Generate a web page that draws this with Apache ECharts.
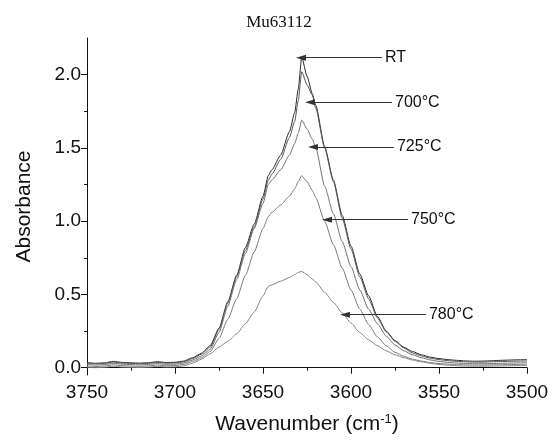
<!DOCTYPE html>
<html>
<head>
<meta charset="utf-8">
<script src="https://cdn.jsdelivr.net/npm/echarts@6/dist/echarts.min.js"></script>
<style>html,body{margin:0;padding:0;background:#fff}#c{width:558px;height:440px}</style>
</head>
<body>
<div id="c"></div>
<script>
const wavenumbers = [3750,3745,3740,3735,3730,3725,3720,3715,3710,3705,3700,3695,3690,3685,3680,3675,3670,3665,3660,3655,3650,
  3647,3645,3640,3635,3632,3630,3628,3625,3622,3620,
  3615,3610,3605,3600,3595,3590,3585,3580,3575,3570,3565,3560,3555,3550,3545,3540,3535,3530,3525,3520,3515,3510,3505,3500];

const absRT = [.035,.030,.033,.043,.036,.033,.031,.034,.041,.035,.037,
  .045,.068,.098,.15,.27,.45,.63,.82,.98,1.17,
  1.31,1.35,1.45,1.61,1.74,1.90,2.12,1.99,1.87,1.79,
  1.51,1.28,1.04,.83,.64,.49,.35,.25,.185,.14,.11,.088,.072,.062,.055,.05,.046,.044,.045,.047,.05,.052,.054,.055];

const abs700 = [.030,.026,.029,.038,.031,.029,.027,.030,.036,.031,.032,
  .040,.062,.092,.14,.26,.44,.62,.80,.96,1.15,
  1.28,1.32,1.42,1.57,1.68,1.82,2.02,1.93,1.86,1.77,
  1.50,1.27,1.02,.81,.62,.47,.34,.245,.18,.135,.10,.08,.065,.055,.048,.043,.04,.038,.038,.04,.042,.043,.045,.046];

const abs725 = [.022,.018,.021,.030,.024,.021,.019,.022,.028,.023,.024,
  .032,.052,.08,.125,.24,.42,.60,.78,.95,1.12,
  1.25,1.28,1.35,1.45,1.53,1.60,1.69,1.63,1.56,1.50,
  1.24,1.05,.86,.69,.53,.40,.30,.215,.155,.115,.088,.068,.053,.043,.036,.032,.029,.027,.027,.028,.03,.031,.033,.034];

const abs750 = [.012,.008,.011,.020,.014,.011,.009,.012,.018,.013,.014,
  .022,.042,.068,.11,.20,.33,.47,.63,.79,.95,
  1.03,1.06,1.11,1.17,1.22,1.27,1.31,1.27,1.21,1.16,
  1.00,.84,.68,.53,.40,.295,.21,.15,.105,.078,.058,.045,.035,.028,.024,.021,.019,.018,.018,.019,.02,.021,.022,.023];

const abs780 = [.004,.000,.003,.010,.005,.003,.001,.004,.009,.005,.006,
  .012,.03,.058,.095,.14,.18,.23,.30,.38,.49,
  .555,.565,.59,.615,.635,.65,.657,.635,.605,.585,
  .515,.445,.375,.305,.24,.19,.15,.115,.088,.068,.052,.04,.03,.022,.017,.013,.011,.01,.01,.011,.012,.013,.014,.015];

const seriesNames = ['RT','700°C','725°C','750°C','780°C'];
const seriesValues = [absRT, abs700, abs725, abs750, abs780];
const seriesColors = ['#2a2a2a','#555555','#6e6e6e','#7a7a7a','#858585'];

// annotation arrows: label, tip [wavenumber, absorbance], tail [wavenumber, absorbance]
const annotations = [
  {text:'RT',    tip:[3628.4,2.116], tail:[3582.4,2.116]},
  {text:'700°C', tip:[3623.3,1.811], tail:[3576.7,1.811]},
  {text:'725°C', tip:[3621.6,1.506], tail:[3575.6,1.506]},
  {text:'750°C', tip:[3613.6,1.010], tail:[3567.6,1.010]},
  {text:'780°C', tip:[3603.4,0.362], tail:[3557.4,0.362]}
];

const yMajor = [0,0.5,1.0,1.5,2.0];
const yMinor = [0.25,0.75,1.25,1.75];

const FONT = 'Liberation Sans, Arial, sans-serif';

const chart = echarts.init(document.getElementById('c'), null, {renderer:'canvas'});

const series = seriesNames.map((n,i)=>({
  name:n, type:'line', showSymbol:false, symbol:'none',
  data: wavenumbers.map((w,j)=>[w, seriesValues[i][j]]),
  lineStyle:{color:seriesColors[i], width:1},
  smooth:0.2, smoothMonotone:'x',
  animation:false, z: 2
}));

series.push({
  type:'line', data:[], silent:true, animation:false,
  markLine:{
    silent:true, animation:false,
    symbol:['none','triangle'], symbolSize:[6,10],
    lineStyle:{color:'#333', width:1, type:'solid'},
    label:{show:true, position:'start', distance:3, color:'#111', fontSize:16, fontFamily:FONT, formatter:p=>p.name},
    data: annotations.map(a=>[
      {name:a.text, coord:a.tail},
      {coord:a.tip}
    ])
  }
});

chart.setOption({
  animation:false,
  title:{text:'Mu63112', left:'center', top:9,
    textStyle:{fontFamily:'Liberation Serif, Times New Roman, serif', fontWeight:'normal', fontSize:17, color:'#111'}},
  grid:{left:87, right:31, top:38, bottom:65},
  xAxis:{
    type:'value', inverse:true, min:3500, max:3750, interval:50,
    axisLine:{lineStyle:{color:'#111', width:1}},
    axisTick:{show:true, length:6, lineStyle:{color:'#111'}},
    minorTick:{show:true, splitNumber:2, length:3, lineStyle:{color:'#111'}},
    splitLine:{show:false},
    axisLabel:{color:'#111', fontSize:19, fontFamily:FONT, margin:8, formatter:v=>String(v)},
    name:'Wavenumber (cm{s|-1})', nameLocation:'middle', nameGap:38,
    nameTextStyle:{color:'#111', fontSize:21, fontFamily:FONT,
      rich:{s:{fontSize:13, fontFamily:FONT, color:'#111', verticalAlign:'top', padding:[0,0,10,0]}}}
  },
  yAxis:[{
    type:'value', min:-0.05, max:2.25,
    axisLine:{show:true, lineStyle:{color:'#111', width:1}},
    axisTick:{show:true, length:6, customValues:yMajor, lineStyle:{color:'#111'}},
    axisLabel:{color:'#111', fontSize:19, fontFamily:FONT, margin:6, customValues:yMajor, formatter:v=>v.toFixed(1)},
    splitLine:{show:false},
    name:'Absorbance', nameLocation:'middle', nameGap:52, nameRotate:90,
    nameTextStyle:{color:'#111', fontSize:21, fontFamily:FONT}
  },{
    type:'value', min:-0.05, max:2.25, position:'left',
    axisLine:{show:false},
    axisTick:{show:true, length:3, customValues:yMinor, lineStyle:{color:'#111'}},
    axisLabel:{show:false},
    splitLine:{show:false}
  }],
  series: series
});
</script>
</body>
</html>
